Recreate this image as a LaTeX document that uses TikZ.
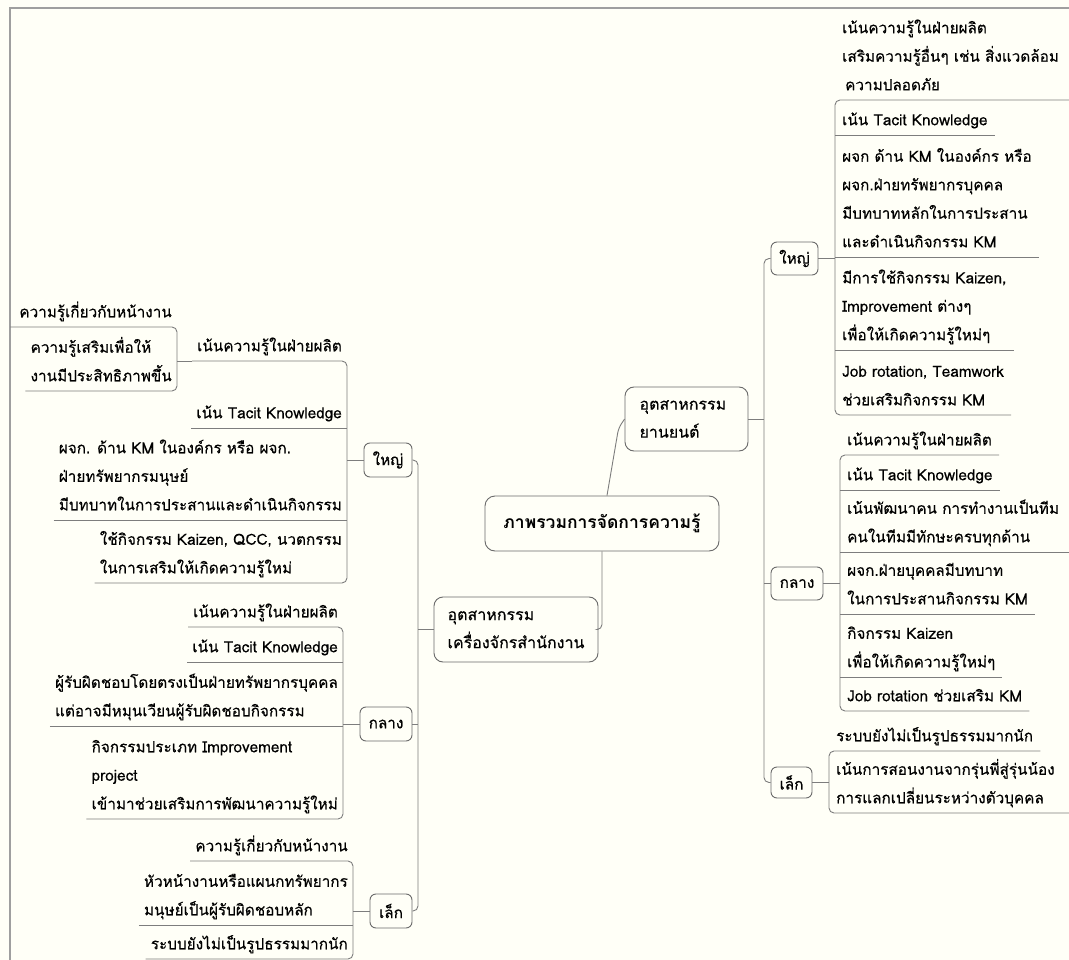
\documentclass[tikz,border=0pt]{standalone}
\usepackage{fontspec}
\setmainfont[Script=Thai,FakeBold=0.4,BoldFont=Loma Bold,BoldFeatures={FakeBold=0}]{Loma}
\definecolor{paper}{RGB}{255,255,247}
\definecolor{edge}{RGB}{125,125,125}
\begin{document}
\begin{tikzpicture}[x=1pt,y=-1pt,font=\fontsize{15.3}{28.5}\selectfont,
  box/.style={draw=edge!85!black, fill=paper, rounded corners=6pt, inner sep=3pt, align=left, line width=0.9pt},
  leafR/.style={anchor=south west, align=left, inner xsep=7pt, inner ysep=1pt, execute at end node=\strut},
  leafL/.style={anchor=south east, align=left, inner xsep=5pt, inner ysep=1pt, execute at end node=\strut},
  conn/.style={draw=edge, line width=0.9pt},
  bus/.style={conn, rounded corners=5pt}]
\useasboundingbox (0,0) rectangle (1069,960);
\fill[paper] (0,0) rectangle (1069,960);
\draw[gray!75, line width=1.3pt] (10,960) -- (10,8) -- (1069,8);
\coordinate (edgeL) at (10,0);
\coordinate (edgeR) at (1069,0);

% main topics
\node[box, font=\fontsize{17.5}{28.5}\selectfont\bfseries, rounded corners=10pt, minimum width=234pt, minimum height=55pt] (root) at (602,523.5) {ภาพรวมการจัดการความรู้};
\node[box, font=\fontsize{16}{28}\selectfont, rounded corners=9pt, text width=94pt, minimum width=123pt, minimum height=64pt] (yan) at (686.5,419) {อุตสาหกรรม\\ยานยนต์};
\node[box, font=\fontsize{16}{28}\selectfont, rounded corners=9pt, minimum width=164pt, minimum height=65pt] (kr) at (516,629.5) {อุตสาหกรรม\\เครื่องจักรสำนักงาน};
\node[box, minimum width=47pt, minimum height=33pt] (yaiR) at (794.5,258.5) {ใหญ่};
\node[box, minimum width=52pt, minimum height=33pt] (klangR) at (797,583.5) {กลาง};
\node[box, minimum width=41pt, minimum height=31pt] (lekR) at (791.5,782.5) {เล็ก};
\node[box, minimum width=48pt, minimum height=34pt] (yaiL) at (388,460) {ใหญ่};
\node[box, minimum width=52pt, minimum height=34pt] (klangL) at (386,724) {กลาง};
\node[box, minimum width=42pt, minimum height=34pt] (lekL) at (391,911) {เล็ก};

% right side, yan yon
\node[leafR] (ry1) at (835,100) {เน้นความรู้ในฝ่ายผลิต\\เสริมความรู้อื่นๆ เช่น สิ่งแวดล้อม\\\hspace{3pt}ความปลอดภัย};
\node[leafR] (ry2) at (835,135) {เน้น Tacit Knowledge};
\node[leafR] (ry3) at (835,257) {ผจก ด้าน KM ในองค์กร หรือ\\ผจก.ฝ่ายทรัพยากรบุคคล\\มีบทบาทหลักในการประสาน\\และดำเนินกิจกรรม KM};
\node[leafR] (ry4) at (835,350) {มีการใช้กิจกรรม Kaizen,\\Improvement ต่างๆ\\เพื่อให้เกิดความรู้ใหม่ๆ};
\node[leafR] (ry5) at (835,415) {Job rotation, Teamwork\\ช่วยเสริมกิจกรรม KM};
\node[leafR] (rk1) at (840,455) {เน้นความรู้ในฝ่ายผลิต};
\node[leafR] (rk2) at (840,490) {เน้น Tacit Knowledge};
\node[leafR] (rk3) at (840,552) {เน้นพัฒนาคน การทำงานเป็นทีม\\คนในทีมมีทักษะครบทุกด้าน};
\node[leafR] (rk4) at (840,614) {ผจก.ฝ่ายบุคคลมีบทบาท\\ในการประสานกิจกรรม KM};
\node[leafR] (rk5) at (840,677) {กิจกรรม Kaizen\\เพื่อให้เกิดความรู้ใหม่ๆ};
\node[leafR] (rk6) at (840,711) {Job rotation ช่วยเสริม KM};
\node[leafR] (rl1) at (829,751) {ระบบยังไม่เป็นรูปธรรมมากนัก};
\node[leafR] (rl2) at (829,813) {เน้นการสอนงานจากรุ่นพี่สู่รุ่นน้อง\\การแลกเปลี่ยนระหว่างตัวบุคคล};

% left side, khrueang chak
\node[leafL] (ly1) at (347,361) {เน้นความรู้ในฝ่ายผลิต};
\node[leafL] (lyc1) at (177,327) {ความรู้เกี่ยวกับหน้างาน};
\node[leafL] (lyc2) at (177,391) {ความรู้เสริมเพื่อให้\\งานมีประสิทธิภาพขึ้น};
\node[leafL] (ly2) at (347,428) {เน้น Tacit Knowledge};
\node[leafL] (ly3) at (347,520) {ผจก. ด้าน KM ในองค์กร หรือ ผจก.\\ฝ่ายทรัพยากรมนุษย์\\มีบทบาทในการประสานและดำเนินกิจกรรม};
\node[leafL] (ly4) at (347,583) {ใช้กิจกรรม Kaizen, QCC, นวตกรรม\\ในการเสริมให้เกิดความรู้ใหม่};
\node[leafL] (lk1) at (343,627) {เน้นความรู้ในฝ่ายผลิต};
\node[leafL] (lk2) at (343,662) {เน้น Tacit Knowledge};
\node[leafL] (lk3) at (343,726) {ผู้รับผิดชอบโดยตรงเป็นฝ่ายทรัพยากรบุคคล\\แต่อาจมีหมุนเวียนผู้รับผิดชอบกิจกรรม};
\node[leafL] (lk4) at (343,819) {กิจกรรมประเภท Improvement\\project\\เข้ามาช่วยเสริมการพัฒนาความรู้ใหม่};
\node[leafL] (ll1) at (353,861) {ความรู้เกี่ยวกับหน้างาน};
\node[leafL] (ll2) at (353,925) {หัวหน้างานหรือแผนกทรัพยากร\\มนุษย์เป็นผู้รับผิดชอบหลัก};
\node[leafL] (ll3) at (353,959) {ระบบยังไม่เป็นรูปธรรมมากนัก};

\coordinate (busR) at (764,419);
\coordinate (busL) at (418,629.5);

% trunk
\draw[bus] ([xshift=5pt]root.north) -- ([xshift=-6pt,yshift=-9pt]yan.west) -- (yan.west);
\draw[bus] (root.south) |- (kr.east);
\draw[conn] (yan.east) -- (busR);
\draw[bus] (yaiR.west) -| (busR) |- (lekR.west);
\draw[conn] (klangR.west) -- (klangR.west -| busR);
\draw[conn] (kr.west) -- (busL);
\draw[bus] (yaiL.east) -| (busL) |- (lekL.east);
\draw[conn] (klangL.east) -- (klangL.east -| busL);

% leaf brackets
\draw[bus] (ry1.south east -| edgeR) -- (ry1.south west) -- (ry5.south west) -- (ry5.south east);
\foreach \n in {2,3,4} \draw[conn] (ry\n.south west) -- (ry\n.south east);
\draw[conn] (yaiR.east) -- (yaiR.east -| ry1.south west);
\draw[bus] (rk1.south east) -- (rk1.south west) -- (rk6.south west) -- (rk6.south east);
\foreach \n in {2,4,5} \draw[conn] (rk\n.south west) -- (rk\n.south east);
\draw[conn] (rk3.south west) -- (rk3.south east -| edgeR);
\draw[conn] (klangR.east) -- (klangR.east -| rk1.south west);
\draw[bus] (rl1.south east) -- (rl1.south west) -- (rl2.south west) -- (rl2.south east -| edgeR);
\draw[conn] (lekR.east) -- (lekR.east -| rl1.south west);

\draw[bus] (ly1.south west) -- (ly1.south east) -- (ly4.south east) -- (ly4.south west);
\foreach \n in {2,3} \draw[conn] (ly\n.south west) -- (ly\n.south east);
\draw[conn] (yaiL.west) -- (yaiL.west -| ly1.south east);
\draw[bus] (lyc1.south west -| edgeL) -- (lyc1.south east) -- (lyc2.south east) -- (lyc2.south west);
\draw[conn] (ly1.south west) -- (ly1.south west -| lyc1.south east);
\draw[bus] (lk1.south west) -- (lk1.south east) -- (lk4.south east) -- (lk4.south west);
\foreach \n in {2,3} \draw[conn] (lk\n.south west) -- (lk\n.south east);
\draw[conn] (klangL.west) -- (klangL.west -| lk1.south east);
\draw[bus] (ll1.south west) -- (ll1.south east) -- (ll3.south east) -- (ll3.south west);
\draw[conn] (ll2.south west) -- (ll2.south east);
\draw[conn] (lekL.west) -- (lekL.west -| ll1.south east);
\end{tikzpicture}
\end{document}
